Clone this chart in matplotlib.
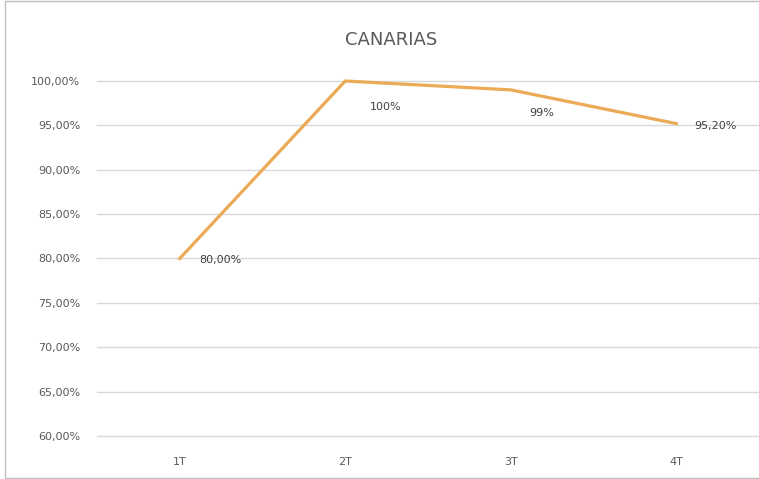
import matplotlib.pyplot as plt
from matplotlib.patches import Rectangle

# datos
trimestres = ['1T', '2T', '3T', '4T']
valores = [0.80, 1.00, 0.99, 0.952]
etiquetas = ['80,00%', '100%', '99%', '95,20%']
yticks = [0.60, 0.65, 0.70, 0.75, 0.80, 0.85, 0.90, 0.95, 1.00]
ytick_labels = ['60,00%', '65,00%', '70,00%', '75,00%', '80,00%',
                '85,00%', '90,00%', '95,00%', '100,00%']

fig = plt.figure(figsize=(7.59, 4.79), dpi=100)
ax = fig.add_axes([97/759, 1-436/479, 662/759, 355/479])

x = range(len(trimestres))
ax.plot(x, valores, color='#EBAA55', lw=2.3, clip_on=False, zorder=3)

# etiquetas de datos
ax.annotate(etiquetas[0], (0, valores[0]), xytext=(14, -1), textcoords='offset points',
            ha='left', va='center', fontsize=8, color='#404040')
ax.annotate(etiquetas[1], (1, valores[1]), xytext=(29, -19), textcoords='offset points',
            ha='center', va='center', fontsize=8, color='#404040')
ax.annotate(etiquetas[2], (2, valores[2]), xytext=(22, -17), textcoords='offset points',
            ha='center', va='center', fontsize=8, color='#404040')
ax.annotate(etiquetas[3], (3, valores[3]), xytext=(13, -2), textcoords='offset points',
            ha='left', va='center', fontsize=8, color='#404040')

ax.set_xlim(-0.5, 3.5)
ax.set_ylim(0.60, 1.00)
ax.set_xticks(list(x))
ax.set_xticklabels(trimestres)
ax.set_yticks(yticks)
ax.set_yticklabels(ytick_labels)
ax.tick_params(axis='both', length=0, labelsize=8, labelcolor='#595959')
ax.tick_params(axis='y', pad=12)
ax.tick_params(axis='x', pad=15)
ax.grid(axis='y', color='#D9D9D9', lw=1, clip_on=False)
for gl in ax.get_ygridlines():
    gl.set_clip_on(False)
ax.set_axisbelow(True)
for s in ax.spines.values():
    s.set_visible(False)

fig.text(0.515, 1-40/479, 'CANARIAS', ha='center', va='center', fontsize=13, color='#595959')

# borde del grafico
fig.patches.append(Rectangle((5/759, 0.002), 1.0, 0.995, transform=fig.transFigure,
                             fill=False, edgecolor='#BFBFBF', lw=1))

fig.savefig('out.png', dpi=100)
